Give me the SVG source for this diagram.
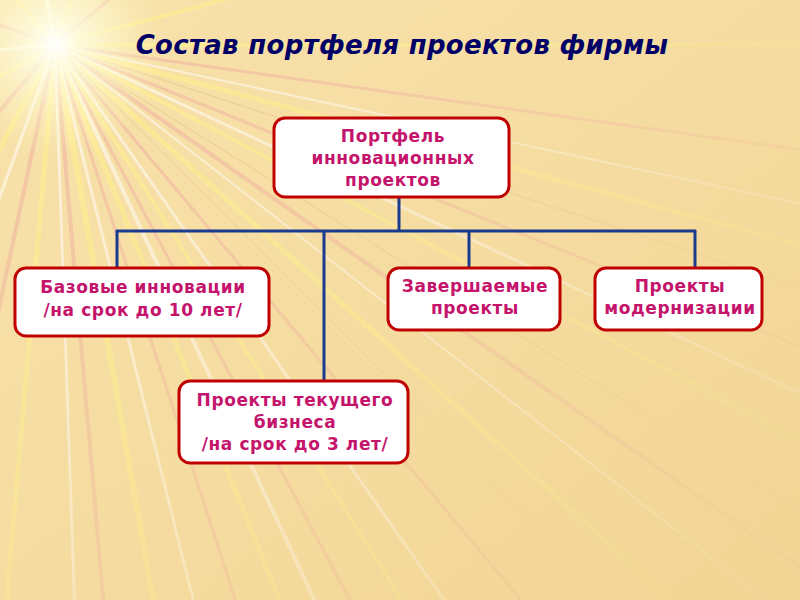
<svg xmlns="http://www.w3.org/2000/svg" width="800" height="600" viewBox="0 0 800 600">
<defs>
<linearGradient id="bg" x1="0" y1="0" x2="1" y2="1">
<stop offset="0" stop-color="#f8e2ac"/>
<stop offset="1" stop-color="#f2d594"/>
</linearGradient>
<radialGradient id="glow" cx="55" cy="45" r="110" gradientUnits="userSpaceOnUse">
<stop offset="0" stop-color="#ffffff" stop-opacity="1"/>
<stop offset="0.2" stop-color="#ffffe8" stop-opacity="0.85"/>
<stop offset="1" stop-color="#fff8c0" stop-opacity="0"/>
</radialGradient>
<radialGradient id="fade" cx="55" cy="45" r="850" gradientUnits="userSpaceOnUse">
<stop offset="0" stop-color="#fff"/>
<stop offset="0.4" stop-color="#fff" stop-opacity="0.7"/>
<stop offset="1" stop-color="#fff" stop-opacity="0.15"/>
</radialGradient>
<mask id="rmask"><rect width="800" height="600" fill="url(#fade)"/></mask>
<style>
.rw{stroke:#ffffff;stroke-opacity:.6}
.ry{stroke:#fff08a;stroke-opacity:.65}
.rp{stroke:#eea0a0;stroke-opacity:.45}
.rd{stroke:#c8a060;stroke-opacity:.35;stroke-width:1}
.box{fill:#ffffff;stroke:#c00000;stroke-width:3}
.lbl{font-family:"DejaVu Sans",Verdana,sans-serif;font-weight:bold;font-size:17px;letter-spacing:0.6px;fill:#c4146c;text-anchor:middle}
.con{stroke:#1a3a90;stroke-width:3;fill:none}
</style>
</defs>
<rect width="800" height="600" fill="url(#bg)"/>
<g id="rays" stroke-linecap="round" mask="url(#rmask)">
<line class="ry" x1="55" y1="45" x2="1255" y2="45" stroke-width="4"/>
<line class="rp" x1="55" y1="45" x2="1243" y2="212" stroke-width="3"/>
<line class="rw" x1="55" y1="45" x2="1229" y2="295" stroke-width="2"/>
<line class="ry" x1="55" y1="45" x2="1214" y2="356" stroke-width="5"/>
<line class="rd" x1="55" y1="45" x2="1196" y2="416"/>
<line class="rp" x1="55" y1="45" x2="1167" y2="495" stroke-width="3"/>
<line class="rw" x1="55" y1="45" x2="1142" y2="553" stroke-width="3"/>
<line class="ry" x1="55" y1="45" x2="1115" y2="608" stroke-width="4"/>
<line class="rd" x1="55" y1="45" x2="1073" y2="681"/>
<line class="rp" x1="55" y1="45" x2="1038" y2="734" stroke-width="4"/>
<line class="rw" x1="55" y1="45" x2="1001" y2="784" stroke-width="2"/>
<line class="ry" x1="55" y1="45" x2="947" y2="848" stroke-width="5"/>
<line class="rd" x1="55" y1="45" x2="903" y2="893"/>
<line class="rp" x1="55" y1="45" x2="827" y2="964" stroke-width="3"/>
<line class="rw" x1="55" y1="45" x2="744" y2="1028" stroke-width="3"/>
<line class="ry" x1="55" y1="45" x2="691" y2="1063" stroke-width="4"/>
<line class="rp" x1="55" y1="45" x2="618" y2="1105" stroke-width="3"/>
<line class="rw" x1="55" y1="45" x2="563" y2="1132" stroke-width="4"/>
<line class="ry" x1="55" y1="45" x2="505" y2="1157" stroke-width="5"/>
<line class="rp" x1="55" y1="45" x2="426" y2="1186" stroke-width="3"/>
<line class="rw" x1="55" y1="45" x2="345" y2="1209" stroke-width="3"/>
<line class="ry" x1="55" y1="45" x2="264" y2="1227" stroke-width="6"/>
<line class="rp" x1="55" y1="45" x2="159" y2="1240" stroke-width="4"/>
<line class="rw" x1="55" y1="45" x2="97" y2="1244" stroke-width="3"/>
<line class="ry" x1="55" y1="45" x2="-49" y2="1240" stroke-width="5"/>
<line class="rp" x1="55" y1="45" x2="-195" y2="1219" stroke-width="4"/>
<line class="rw" x1="55" y1="45" x2="-355" y2="1173" stroke-width="3"/>
<line class="ry" x1="55" y1="45" x2="-508" y2="1105" stroke-width="5"/>
<line class="rp" x1="55" y1="45" x2="-716" y2="964" stroke-width="4"/>
<line class="ry" x1="55" y1="45" x2="-984" y2="645" stroke-width="4"/>
<line class="rw" x1="55" y1="45" x2="-1140" y2="150" stroke-width="3"/>
<line class="rp" x1="55" y1="45" x2="-1073" y2="-365" stroke-width="3"/>
<line class="ry" x1="55" y1="45" x2="-716" y2="-874" stroke-width="4"/>
<line class="rw" x1="55" y1="45" x2="-154" y2="-1137" stroke-width="4"/>
<line class="ry" x1="55" y1="45" x2="465" y2="-1083" stroke-width="4"/>
<line class="rp" x1="55" y1="45" x2="974" y2="-727" stroke-width="3"/>
<line class="ry" x1="55" y1="45" x2="1214" y2="-266" stroke-width="4"/>
</g>
<circle cx="55" cy="45" r="110" fill="url(#glow)"/>
<text x="402" y="54" font-family="DejaVu Sans, Verdana, sans-serif" font-weight="bold" font-style="italic" font-size="26" letter-spacing="0.3" fill="#000066" text-anchor="middle">Состав портфеля проектов фирмы</text>
<g id="connectors" class="con">
<line x1="399" y1="197" x2="399" y2="231"/>
<line x1="116" y1="231" x2="696" y2="231"/>
<line x1="117" y1="230" x2="117" y2="268"/>
<line x1="324" y1="230" x2="324" y2="381"/>
<line x1="469" y1="230" x2="469" y2="268"/>
<line x1="695" y1="230" x2="695" y2="268"/>
</g>
<g id="n-portfolio">
<rect class="box" x="274" y="118" width="235" height="79" rx="11"/>
<text class="lbl" x="393" y="142">Портфель</text>
<text class="lbl" x="393" y="164">инновационных</text>
<text class="lbl" x="393" y="186">проектов</text>
</g>
<g id="n-base">
<rect class="box" x="15" y="268" width="254" height="68" rx="11"/>
<text class="lbl" x="143" y="293">Базовые инновации</text>
<text class="lbl" x="143" y="316">/на срок до 10 лет/</text>
</g>
<g id="n-finishing">
<rect class="box" x="388" y="268" width="172" height="62" rx="11"/>
<text class="lbl" x="475" y="292">Завершаемые</text>
<text class="lbl" x="475" y="314">проекты</text>
</g>
<g id="n-modern">
<rect class="box" x="595" y="268" width="167" height="62" rx="11"/>
<text class="lbl" x="680" y="292">Проекты</text>
<text class="lbl" x="680" y="314">модернизации</text>
</g>
<g id="n-current">
<rect class="box" x="179" y="381" width="229" height="82" rx="11"/>
<text class="lbl" x="295" y="406">Проекты текущего</text>
<text class="lbl" x="295" y="428">бизнеса</text>
<text class="lbl" x="295" y="450">/на срок до 3 лет/</text>
</g>
</svg>
